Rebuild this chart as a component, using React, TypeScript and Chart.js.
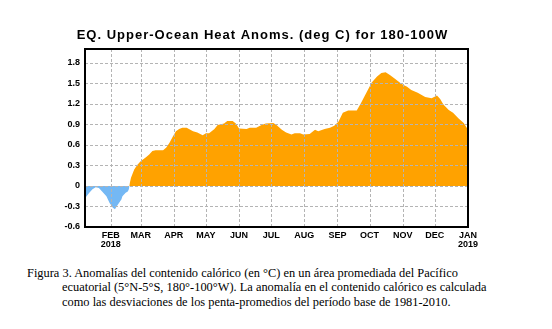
import React, { useEffect, useRef } from "react";
import { Chart, registerables } from "chart.js";
Chart.register(...registerables);

const titleText = "EQ. Upper-Ocean Heat Anoms. (deg C) for 180-100W";

// day of year 2018 (0 = Jan 1 2018)
const days = [
  7, 11, 14, 17, 20, 23, 27, 30, 33, 35, 37, 41, 42, 45, 47, 48, 49, 50, 53, 56,
  59, 64, 67, 70, 73, 80, 83, 86, 89, 92, 95, 98, 102, 108, 112, 117, 120, 123, 128, 131,
  137, 140, 145, 148, 151, 158, 161, 167, 172, 176, 183, 186, 191, 195, 200, 203, 208, 211, 217, 222,
  225, 231, 236, 240, 244, 248, 253, 261, 265, 270, 275, 280, 284, 288, 292, 297, 303, 308, 312, 318,
  325, 331, 336, 339, 342, 347, 351, 356, 361, 365,
];
const heat = [
  -0.18, -0.1, -0.05, -0.02, -0.03, -0.08, -0.15, -0.25, -0.32, -0.34, -0.29, -0.2, -0.15, -0.1, -0.08, -0.05, 0.05, 0.12, 0.24, 0.31,
  0.36, 0.42, 0.46, 0.51, 0.52, 0.52, 0.56, 0.63, 0.72, 0.8, 0.83, 0.85, 0.85, 0.8, 0.78, 0.74, 0.77, 0.77, 0.83, 0.89,
  0.91, 0.95, 0.95, 0.91, 0.84, 0.83, 0.85, 0.85, 0.89, 0.91, 0.92, 0.89, 0.82, 0.78, 0.75, 0.77, 0.77, 0.75, 0.76, 0.82,
  0.8, 0.83, 0.85, 0.88, 0.94, 1.07, 1.1, 1.1, 1.21, 1.36, 1.51, 1.6, 1.65, 1.66, 1.62, 1.56, 1.49, 1.45, 1.4, 1.36,
  1.3, 1.28, 1.32, 1.27, 1.19, 1.11, 1.07, 0.99, 0.92, 0.82,
];

const monthTickDays = [31, 59, 90, 120, 151, 181, 212, 243, 273, 304, 334, 365];
const monthTickLabels: (string | string[])[] = [
  ["FEB", "2018"], "MAR", "APR", "MAY", "JUN", "JUL", "AUG", "SEP", "OCT", "NOV", "DEC", ["JAN", "2019"],
];
const yMin = -0.6;
const yMax = 2.0;
const yTickValues = [-0.6, -0.3, 0, 0.3, 0.6, 0.9, 1.2, 1.5, 1.8];

const captionLines = [
  "Figura 3. Anomalías del contenido calórico (en °C) en un área promediada del Pacífico",
  "ecuatorial (5°N-5°S, 180°-100°W). La anomalía en el contenido calórico es calculada",
  "como las desviaciones de los penta-promedios del período base de 1981-2010.",
];

function drawGrid(chart: any) {
  const { ctx, chartArea } = chart;
  const xs = chart.scales.x;
  const ys = chart.scales.y;
  const { left, right, top, bottom } = chartArea;
  ctx.save();
  ctx.strokeStyle = "#b4b4b4";
  ctx.lineWidth = 1;
  ctx.setLineDash([3, 2]);
  ctx.beginPath();
  for (const v of yTickValues) {
    const py = Math.round(ys.getPixelForValue(v)) + 0.5;
    ctx.moveTo(left, py);
    ctx.lineTo(right, py);
  }
  for (const v of monthTickDays) {
    const px = Math.round(xs.getPixelForValue(v)) + 0.5;
    if (px >= right - 1) continue;
    ctx.moveTo(px, top);
    ctx.lineTo(px, bottom);
  }
  ctx.stroke();
  ctx.restore();
}

const framePlugin = {
  id: "frame",
  afterDraw(chart: any) {
    drawGrid(chart);
    const { ctx, chartArea } = chart;
    ctx.save();
    ctx.strokeStyle = "#000";
    ctx.lineWidth = 2;
    ctx.setLineDash([]);
    ctx.strokeRect(chartArea.left, chartArea.top, chartArea.right - chartArea.left, chartArea.bottom - chartArea.top);
    // title
    ctx.fillStyle = "#000";
    ctx.font = "bold 13px 'Liberation Sans', Arial, sans-serif";
    (ctx as any).letterSpacing = "1px";
    ctx.textAlign = "center";
    ctx.textBaseline = "middle";
    ctx.fillText(titleText, chart.width / 2, 35);
    ctx.restore();
  },
};

export default function App() {
  const ref = useRef<HTMLCanvasElement | null>(null);
  useEffect(() => {
    if (!ref.current) return;
    const tickFont = { family: "'Liberation Sans', Arial, sans-serif", size: 9, weight: "bold" as const, lineHeight: 1.0 };
    const chart = new Chart(ref.current, {
      type: "line",
      data: {
        datasets: [
          {
            data: days.map((d, i) => ({ x: d, y: heat[i] })),
            borderWidth: 0,
            borderColor: "rgba(0,0,0,0)",
            pointRadius: 0,
            tension: 0,
            fill: { target: "origin", above: "#FFA200", below: "#74B8F4" },
          },
        ],
      },
      options: {
        animation: false,
        responsive: false,
        maintainAspectRatio: false,
        layout: { padding: { left: 0, right: 57, top: 49, bottom: 0 } },
        plugins: {
          legend: { display: false },
          tooltip: { enabled: false },
          title: { display: false },
        },
        scales: {
          x: {
            type: "linear",
            min: days[0],
            max: 365,
            afterBuildTicks: (scale: any) => {
              scale.ticks = monthTickDays.map((v) => ({ value: v }));
            },
            afterFit: (scale: any) => {
              scale.height = 23;
            },
            ticks: {
              autoSkip: false,
              maxRotation: 0,
              color: "#000",
              font: tickFont,
              padding: 4,
              callback: (v: any) => {
                const i = monthTickDays.indexOf(Number(v));
                return i >= 0 ? monthTickLabels[i] : "";
              },
            },
            grid: { display: false, drawTicks: false },
            border: { display: false },
          },
          y: {
            type: "linear",
            min: yMin,
            max: yMax,
            afterBuildTicks: (scale: any) => {
              scale.ticks = yTickValues.map((v) => ({ value: v }));
            },
            afterFit: (scale: any) => {
              scale.width = 85;
            },
            ticks: {
              color: "#000",
              font: tickFont,
              padding: 5,
              callback: (v: any) => {
                const n = Number(v);
                if (Math.abs(n) < 1e-9) return "0";
                return n.toFixed(1);
              },
            },
            grid: { display: false, drawTicks: false },
            border: { display: false },
          },
        },
      },
      plugins: [framePlugin],
    });
    return () => chart.destroy();
  }, []);

  return (
    <div style={{ position: "fixed", left: 0, top: 0, width: 552, height: 329, background: "#fff", overflow: "hidden" }}>
      <canvas ref={ref} width={525} height={250} style={{ position: "absolute", left: 0, top: 0, width: 525, height: 250 }} />
      <div
        style={{
          position: "absolute",
          left: 27,
          top: 266,
          fontFamily: "'Liberation Serif', 'Times New Roman', serif",
          fontSize: 12.4,
          lineHeight: "14.3px",
          color: "#000",
          whiteSpace: "nowrap",
        }}
      >
        <div>{captionLines[0]}</div>
        <div style={{ paddingLeft: 35 }}>{captionLines[1]}</div>
        <div style={{ paddingLeft: 35 }}>{captionLines[2]}</div>
      </div>
    </div>
  );
}
